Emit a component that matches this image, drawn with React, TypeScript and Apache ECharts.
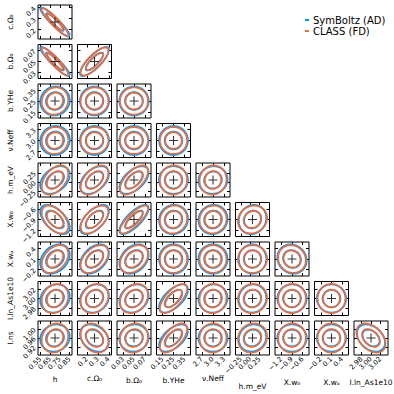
import React, { useEffect, useRef } from "react";
import * as echarts from "echarts";

// Parameter names (axis titles)
const NAMES = ["h", "c.Ω₀", "b.Ω₀", "b.YHe", "ν.Neff", "h.m_eV", "X.w₀", "X.wₐ", "I.ln_As1e10", "I.ns"];
// Fiducial values (the "+" markers)
const FIDUCIAL = [0.70, 0.27, 0.05, 0.25, 3.0, 0.06, -0.9, 0.1, 3.0, 0.96];
// Half width of each axis around the fiducial
const HALF_RANGE = [0.175, 0.155, 0.031, 0.155, 0.46, 0.45, 0.48, 0.48, 0.036, 0.075];
// Tick values and labels
const TICKS = [
  [0.55, 0.65, 0.75, 0.85],
  [0.2, 0.3, 0.4],
  [0.03, 0.05, 0.07],
  [0.15, 0.25, 0.35],
  [2.7, 3.0, 3.3],
  [-0.25, 0.0, 0.25],
  [-1.2, -0.9, -0.6],
  [-0.2, 0.1, 0.4],
  [2.98, 3.0, 3.02],
  [0.92, 0.96, 1.0],
];
const TICK_LABELS = [
  ["0.55", "0.65", "0.75", "0.85"],
  ["0.2", "0.3", "0.4"],
  ["0.03", "0.05", "0.07"],
  ["0.15", "0.25", "0.35"],
  ["2.7", "3.0", "3.3"],
  ["−0.25", "0.00", "0.25"],
  ["−1.2", "−0.9", "−0.6"],
  ["−0.2", "0.1", "0.4"],
  ["2.98", "3.00", "3.02"],
  ["0.92", "0.96", "1.00"],
];
// Marginal standard deviations for each code
const SIGMA_SYMBOLTZ = [0.061, 0.053, 0.0107, 0.053, 0.158, 0.147, 0.166, 0.166, 0.0120, 0.0241];
const SIGMA_CLASS = [0.055, 0.051, 0.0103, 0.050, 0.147, 0.155, 0.158, 0.158, 0.0124, 0.0258];
// Correlation coefficients (lower triangle, row = y parameter index)
const RHO_SYMBOLTZ = [
  [],
  [-0.93],
  [-0.93, 0.82],
  [0.05, 0.0, 0.0],
  [0.05, 0.0, 0.0, 0.0],
  [0.38, 0.45, 0.55, 0.0, 0.05],
  [-0.55, 0.6, 0.76, 0.05, 0.05, 0.1],
  [0.3, 0.4, 0.3, 0.0, 0.0, 0.0, -0.1],
  [0.15, 0.15, 0.2, 0.62, 0.05, 0.05, 0.0, 0.0],
  [0.1, -0.3, 0.05, 0.55, 0.0, 0.1, 0.0, 0.0, -0.35],
];
const RHO_CLASS = [
  [],
  [-0.92],
  [-0.92, 0.78],
  [0.08, 0.02, 0.0],
  [0.05, 0.02, 0.0, 0.0],
  [0.45, 0.5, 0.62, 0.02, 0.05],
  [-0.5, 0.55, 0.8, 0.08, 0.05, 0.12],
  [0.38, 0.45, 0.35, 0.02, 0.0, 0.02, -0.1],
  [0.18, 0.2, 0.25, 0.68, 0.05, 0.05, 0.02, 0.0],
  [0.15, -0.25, 0.1, 0.62, 0.02, 0.1, 0.02, 0.0, -0.4],
];
const SERIES_NAMES = ["SymBoltz (AD)", "CLASS (FD)"];
const COLORS = ["#009AFA", "#E36F47"];
const CHI2_LEVELS = [2.30, 6.17];

// Layout
const LEFT0 = 38;
const TOP0 = 5;
const PITCH = 39.5;
const SIZE = 34;
const XNAME_Y = [379, 378, 380, 380, 378, 386, 382, 382, 382];
const FONT = "DejaVu Sans";
const TICK_FONT = 6.8;

function ellipse(mx: number, my: number, sx: number, sy: number, rho: number, k: number) {
  const pts: number[][] = [];
  const n = 120;
  const s = Math.sqrt(1 - rho * rho);
  for (let i = 0; i <= n; i++) {
    const t = (2 * Math.PI * i) / n;
    pts.push([mx + k * sx * Math.cos(t), my + k * sy * (rho * Math.cos(t) + s * Math.sin(t))]);
  }
  return pts;
}

export default function App() {
  const ref = useRef<HTMLDivElement>(null);
  useEffect(() => {
    if (!ref.current) return;
    const chart = echarts.init(ref.current, null, { renderer: "svg" });
    const grids: any[] = [];
    const xAxes: any[] = [];
    const yAxes: any[] = [];
    const series: any[] = [];
    const graphics: any[] = [];
    const bottomAxes: { axis: number; p: number }[] = [];
    const leftAxes: { axis: number; p: number }[] = [];
    const tickStyle = { show: true, inside: true, length: 3, lineStyle: { color: "#000", width: 1 } };
    const noLine = { show: false, onZero: false };
    let g = 0;
    for (let r = 0; r < 9; r++) {
      const py = r + 1;
      for (let c = 0; c <= r; c++) {
        const px = c;
        grids.push({
          left: LEFT0 + c * PITCH,
          top: TOP0 + r * PITCH,
          width: SIZE,
          height: SIZE,
          show: true,
          borderColor: "#000",
          borderWidth: 1,
          backgroundColor: "transparent",
        });
        const xmin = FIDUCIAL[px] - HALF_RANGE[px];
        const xmax = FIDUCIAL[px] + HALF_RANGE[px];
        const ymin = FIDUCIAL[py] - HALF_RANGE[py];
        const ymax = FIDUCIAL[py] + HALF_RANGE[py];
        const xi = xAxes.length;
        if (r === 8) bottomAxes.push({ axis: xi, p: px });
        for (const pos of ["bottom", "top"]) {
          xAxes.push({
            type: "value", gridIndex: g, position: pos, min: xmin, max: xmax,
            axisLine: noLine, splitLine: { show: false },
            axisTick: { ...tickStyle, customValues: TICKS[px] },
            axisLabel: { show: false },
          });
        }
        const yi = yAxes.length;
        if (c === 0) leftAxes.push({ axis: yi, p: py });
        for (const pos of ["left", "right"]) {
          yAxes.push({
            type: "value", gridIndex: g, position: pos, min: ymin, max: ymax,
            axisLine: noLine, splitLine: { show: false },
            axisTick: { ...tickStyle, customValues: TICKS[py] },
            axisLabel: { show: false },
          });
        }
        const sig = [SIGMA_SYMBOLTZ, SIGMA_CLASS];
        const rho = [RHO_SYMBOLTZ, RHO_CLASS];
        for (let s = 0; s < 2; s++) {
          for (const chi2 of CHI2_LEVELS) {
            series.push({
              type: "line",
              name: SERIES_NAMES[s],
              xAxisIndex: xi,
              yAxisIndex: yi,
              data: ellipse(FIDUCIAL[px], FIDUCIAL[py], sig[s][px], sig[s][py], rho[s][py][px], Math.sqrt(chi2)),
              showSymbol: false,
              symbol: "none",
              smooth: false,
              lineStyle: { color: COLORS[s], width: 1.8 },
              itemStyle: { color: COLORS[s] },
              clip: true,
              silent: true,
            });
          }
        }
        series.push({
          type: "scatter",
          xAxisIndex: xi,
          yAxisIndex: yi,
          data: [[FIDUCIAL[px], FIDUCIAL[py]]],
          symbol: "path://M4.4,0H5.6V4.4H10V5.6H5.6V10H4.4V5.6H0V4.4H4.4Z",
          symbolSize: 9,
          itemStyle: { color: "#000" },
          z: 5,
          silent: true,
        });
        g++;
      }
    }
    for (let r = 0; r < 9; r++) {
      graphics.push({
        type: "text",
        x: 10,
        y: TOP0 + r * PITCH + SIZE / 2,
        rotation: Math.PI / 2,
        style: { text: NAMES[r + 1], fontSize: 7.5, fontFamily: FONT, fill: "#000", align: "center", verticalAlign: "middle" },
      });
    }
    for (let c = 0; c < 9; c++) {
      graphics.push({
        type: "text",
        x: LEFT0 + c * PITCH + SIZE / 2,
        y: XNAME_Y[c],
        style: { text: NAMES[c], fontSize: 7.5, fontFamily: FONT, fill: "#000", align: "center", verticalAlign: "middle" },
      });
    }
    chart.setOption({
      animation: false,
      grid: grids,
      xAxis: xAxes,
      yAxis: yAxes,
      series,
      legend: {
        data: SERIES_NAMES,
        orient: "vertical",
        left: 300,
        top: 10,
        icon: "rect",
        itemWidth: 4,
        itemHeight: 2,
        itemGap: 1,
        textStyle: { fontSize: 10, fontFamily: FONT, color: "#000", padding: [0, 0, 0, -1] },
      },
    });
    // Tick labels, positioned through the axes' own scales
    const labelY = TOP0 + 8 * PITCH + SIZE + 3;
    for (const b of bottomAxes) {
      TICKS[b.p].forEach((v, i) => {
        const x = chart.convertToPixel({ xAxisIndex: b.axis } as any, v) as any as number;
        graphics.push({
          type: "text", x, y: labelY, rotation: Math.PI / 4,
          style: { text: TICK_LABELS[b.p][i], fontSize: TICK_FONT, fontFamily: FONT, fill: "#000", align: "right", verticalAlign: "middle" },
        });
      });
    }
    const labelX = LEFT0 - 3;
    for (const l of leftAxes) {
      TICKS[l.p].forEach((v, i) => {
        const y = chart.convertToPixel({ yAxisIndex: l.axis } as any, v) as any as number;
        graphics.push({
          type: "text", x: labelX, y, rotation: Math.PI / 4,
          style: { text: TICK_LABELS[l.p][i], fontSize: TICK_FONT, fontFamily: FONT, fill: "#000", align: "right", verticalAlign: "middle" },
        });
      });
    }
    chart.setOption({ graphic: graphics });
    return () => chart.dispose();
  }, []);
  return <div ref={ref} style={{ width: 394, height: 394, position: "absolute", left: 0, top: 0 }} />;
}
